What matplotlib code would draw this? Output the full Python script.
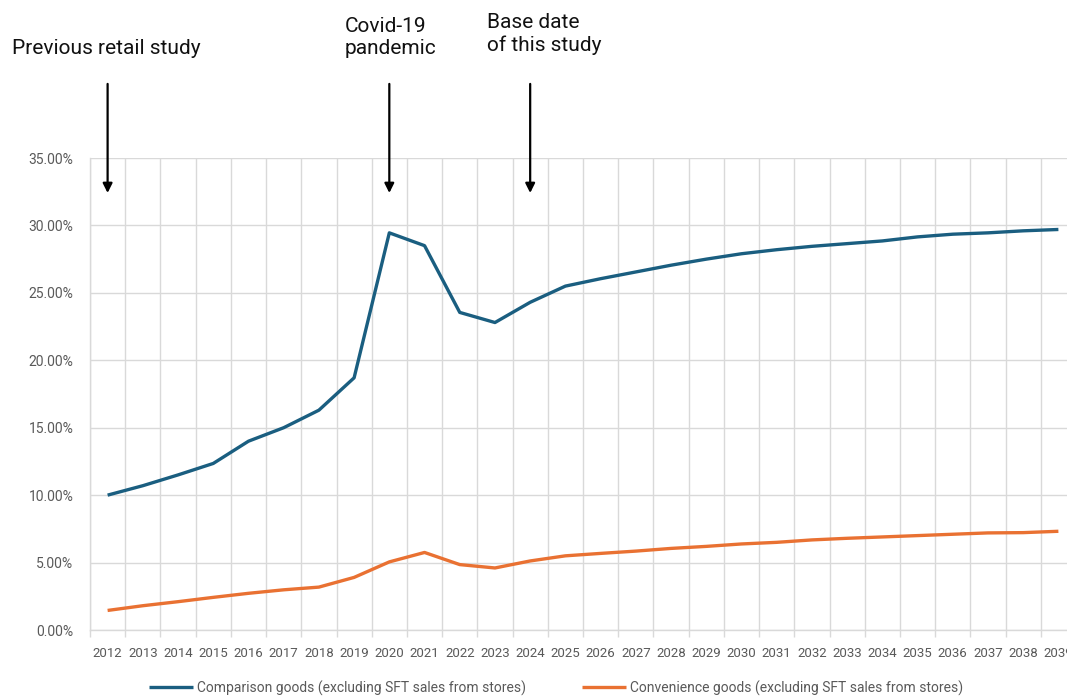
import matplotlib
matplotlib.use("Agg")
import matplotlib.pyplot as plt
from matplotlib.ticker import FuncFormatter, MultipleLocator, FixedLocator
from matplotlib import font_manager

years = [str(y) for y in range(2012, 2040)]

# share of sales (%)
comparison = [10.0, 10.7, 11.5, 12.35, 14.0, 15.0, 16.3, 18.7, 29.45, 28.5,
              23.55, 22.8, 24.3, 25.5, 26.05, 26.55, 27.05, 27.5, 27.9, 28.2,
              28.45, 28.65, 28.85, 29.15, 29.35, 29.45, 29.6, 29.7]
convenience = [1.45, 1.8, 2.1, 2.42, 2.72, 2.98, 3.18, 3.9, 5.05, 5.75,
               4.85, 4.6, 5.12, 5.5, 5.68, 5.85, 6.05, 6.2, 6.38, 6.5,
               6.68, 6.8, 6.9, 7.0, 7.1, 7.2, 7.22, 7.32]

series_names = ["Comparison goods (excluding SFT sales from stores)",
                "Convenience goods (excluding SFT sales from stores)"]
colors = ["#1a5e80", "#e97132"]

# events marked with arrows above the chart
events = [("Previous retail study", "2012"),
          ("Covid-19\npandemic", "2020"),
          ("Base date\nof this study", "2024")]

names = {f.name for f in font_manager.fontManager.ttflist}
narrow = "Liberation Sans Narrow" if "Liberation Sans Narrow" in names else "Roboto"
label_font = [narrow, "DejaVu Sans"]
note_font = ["Roboto", "DejaVu Sans"]
grey = "#595959"
grid_c = "#d9d9d9"

W, H = 1067, 696
fig = plt.figure(figsize=(W / 100, H / 100), dpi=100)
ax = fig.add_axes([90 / W, 66 / H, 986 / W, 472 / H])

x = list(range(len(years)))
ax.plot(x, [v / 100 for v in comparison], color=colors[0], lw=2.4,
        solid_joinstyle="round", solid_capstyle="butt", label=series_names[0])
ax.plot(x, [v / 100 for v in convenience], color=colors[1], lw=2.4,
        solid_joinstyle="round", solid_capstyle="butt", label=series_names[1])

ax.set_xlim(-0.5, len(years) - 0.5)
ax.set_ylim(0, 0.35)
ax.yaxis.set_major_locator(MultipleLocator(0.05))
ax.yaxis.set_major_formatter(FuncFormatter(lambda v, p: f"{v * 100:.2f}%"))

ax.set_xticks(x)
ax.set_xticklabels(years)
ax.xaxis.set_minor_locator(FixedLocator([i + 0.5 for i in range(-1, len(years))]))
ax.tick_params(axis="x", which="major", length=0, pad=12)
ax.tick_params(axis="x", which="minor", length=5, color=grid_c, width=1)
ax.tick_params(axis="y", length=0, pad=12)
for lab in ax.get_xticklabels():
    lab.set_family(label_font)
    lab.set_fontsize(9.5)
    lab.set_color(grey)
for lab in ax.get_yticklabels():
    lab.set_family(label_font)
    lab.set_fontsize(10)
    lab.set_color(grey)

ax.grid(True, axis="y", color=grid_c, lw=1)
ax.grid(True, axis="x", which="minor", color=grid_c, lw=1)
ax.set_axisbelow(True)
for side in ["top", "right"]:
    ax.spines[side].set_visible(False)
for side in ["left", "bottom"]:
    ax.spines[side].set_color(grid_c)
    ax.spines[side].set_linewidth(1)

# annotations with arrows
text_pos = {"2012": (12, 48), "2020": (345, 38), "2024": (487, 34)}
for label, yr in events:
    i = years.index(yr)
    ax.annotate("", xy=(i, 0.322), xytext=(i, 0.407),
                arrowprops=dict(arrowstyle="-|>", color="black", lw=1.6,
                                mutation_scale=14),
                annotation_clip=False)
    tx, ty = text_pos[yr]
    fig.text(tx / W, 1 - ty / H, label, ha="left", va="center",
             fontsize=15, family=note_font, color="#111111", linespacing=1.2)

leg = fig.legend(loc="center", bbox_to_anchor=(556 / W, 1 - 688 / H), ncol=2,
                 frameon=False, handlelength=3.2, columnspacing=4.0,
                 handletextpad=0.3, prop={"family": label_font, "size": 10})
for t in leg.get_texts():
    t.set_color(grey)

fig.savefig("out.png", dpi=100)
